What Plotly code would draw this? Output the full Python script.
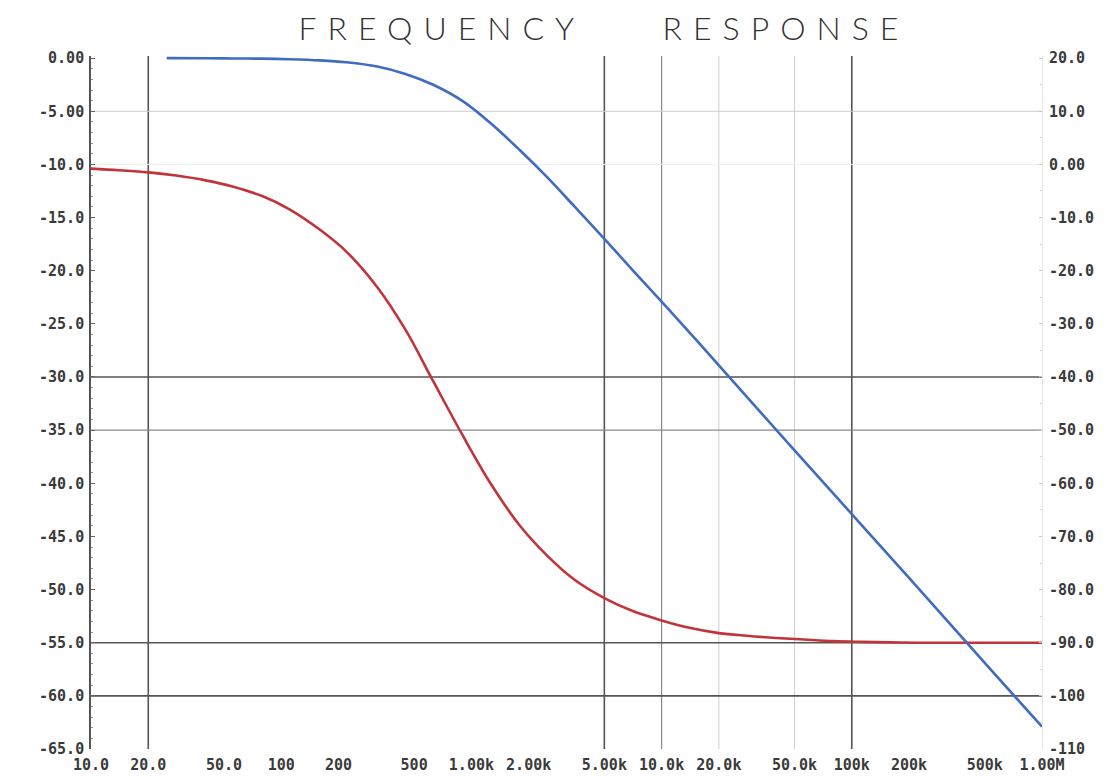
import plotly.graph_objects as go

# ---- data (left axis, dB) ----
red_freq = [10, 14, 20, 28, 40, 56, 80, 110, 160, 220, 320, 450, 630, 900, 1250, 1800,
            2500, 3500, 5000, 7000, 10000, 14000, 20000, 28000, 40000, 56000, 80000,
            110000, 160000, 220000, 500000, 1000000]
red_db = [-10.4, -10.55, -10.75, -11.05, -11.5, -12.1, -13.0, -14.2, -16.15, -18.2, -21.55,
          -25.55, -30.4, -35.5, -39.9, -44.0, -46.8, -49.1, -50.8, -52.0, -52.9, -53.6,
          -54.1, -54.35, -54.55, -54.7, -54.85, -54.92, -54.97, -55.0, -55.0, -55.0]

blue_freq = [25, 40, 56, 80, 110, 160, 220, 320, 450, 630, 900, 1250, 1800, 2500, 3500,
             5000, 7000, 10000, 14000, 20000, 50000, 100000, 200000, 500000, 1000000]
blue_db = [0.0, -0.01, -0.03, -0.05, -0.10, -0.21, -0.39, -0.79, -1.49, -2.51, -4.05,
           -6.06, -8.67, -11.2, -14.0, -17.0, -19.9, -22.9, -25.8, -28.9, -36.9, -42.9,
           -48.9, -56.9, -62.9]

# ---- tick labels ----
x_tick_vals = [10, 20, 50, 100, 200, 500, 1000, 2000, 5000, 10000, 20000, 50000,
               100000, 200000, 500000, 1000000]
x_tick_text = ["10.0", "20.0", "50.0", "100", "200", "500", "1.00k", "2.00k", "5.00k",
               "10.0k", "20.0k", "50.0k", "100k", "200k", "500k", "1.00M"]
left_tick_vals = [0, -5, -10, -15, -20, -25, -30, -35, -40, -45, -50, -55, -60, -65]
left_tick_text = ["0.00", "-5.00", "-10.0", "-15.0", "-20.0", "-25.0", "-30.0", "-35.0",
                  "-40.0", "-45.0", "-50.0", "-55.0", "-60.0", "-65.0"]
right_tick_vals = [20, 10, 0, -10, -20, -30, -40, -50, -60, -70, -80, -90, -100, -110]
right_tick_text = ["20.0", "10.0", "0.00", "-10.0", "-20.0", "-30.0", "-40.0", "-50.0",
                   "-60.0", "-70.0", "-80.0", "-90.0", "-100", "-110"]

# grid lines (x in Hz, y in left-axis dB)
x_grid_dark = [20, 5000, 100000]
x_grid_mid = [10000]
x_grid_light = [20000, 50000]
y_grid_dark = [-30, -55, -60]
y_grid_mid = [-35]
y_grid_light = [-5]
y_grid_faint = [-10]

fig = go.Figure()

fig.add_trace(go.Scatter(x=red_freq, y=red_db, mode="lines",
                         line=dict(color="#c0343a", width=2.6, shape="spline", smoothing=1.0),
                         showlegend=False, hoverinfo="skip"))
fig.add_trace(go.Scatter(x=blue_freq, y=blue_db, mode="lines",
                         line=dict(color="#3f6cc0", width=2.6, shape="spline", smoothing=1.0),
                         showlegend=False, hoverinfo="skip"))
# empty trace so the right-hand axis is drawn
fig.add_trace(go.Scatter(x=[], y=[], yaxis="y2", showlegend=False, hoverinfo="skip"))

shapes = []
for vals, col, w in [(x_grid_light, "#cfcfcf", 1), (x_grid_mid, "#8a8a8a", 1.2),
                     (x_grid_dark, "#555555", 1.6)]:
    for v in vals:
        shapes.append(dict(type="line", xref="x", yref="paper", x0=v, x1=v, y0=0, y1=1,
                           line=dict(color=col, width=w), layer="below"))
for vals, col, w in [(y_grid_faint, "#eeeeee", 1), (y_grid_light, "#cccccc", 1),
                     (y_grid_mid, "#8a8a8a", 1.2), (y_grid_dark, "#555555", 1.6)]:
    for v in vals:
        shapes.append(dict(type="line", xref="paper", yref="y", x0=0, x1=1, y0=v, y1=v,
                           line=dict(color=col, width=w), layer="below"))

tick_font = dict(family="DejaVu Sans Mono", size=15, color="#3a3a3a", weight="bold")

# the page body adds an 8 px offset, so the figure is 8 px smaller each way
fig.update_layout(
    width=1100, height=770,
    margin=dict(l=83, r=66, t=48, b=29),
    paper_bgcolor="white", plot_bgcolor="white",
    showlegend=False,
    shapes=shapes,
    title=dict(text='<span style="letter-spacing:11px">FREQUENCY\u00a0\u00a0\u00a0\u00a0RESPONSE</span>',
               font=dict(family="Lato", size=32, color="#333333", weight=300),
               x=0.5418, xref="container", xanchor="center",
               y=1 - 21 / 770, yref="container", yanchor="middle"),
    xaxis=dict(type="log", range=[1, 6], tickvals=x_tick_vals, ticktext=x_tick_text,
               showgrid=False, zeroline=False, showline=False, ticks="",
               tickfont=tick_font, ticklabelstandoff=5, automargin=False),
    yaxis=dict(range=[-65, 0.2], tickvals=left_tick_vals, ticktext=left_tick_text,
               showgrid=False, zeroline=False, showline=True, linecolor="#555555",
               linewidth=1.6, ticks="inside", ticklen=4, tickcolor="#666666",
               minor=dict(dtick=1, ticks="inside", ticklen=2, tickcolor="#999999"),
               tickfont=tick_font, ticklabelstandoff=2, automargin=False),
    yaxis2=dict(range=[-110, 20.4], overlaying="y", side="right", anchor="x",
                tickvals=right_tick_vals, ticktext=right_tick_text,
                showgrid=False, zeroline=False, showline=True, linecolor="#e6e6e6",
                linewidth=1, ticks="inside", ticklen=3, tickcolor="#c8c8c8",
                minor=dict(dtick=5, ticks="inside", ticklen=2, tickcolor="#d5d5d5"),
                tickfont=tick_font, ticklabelstandoff=3, automargin=False),
)

fig.write_html("out.html")
